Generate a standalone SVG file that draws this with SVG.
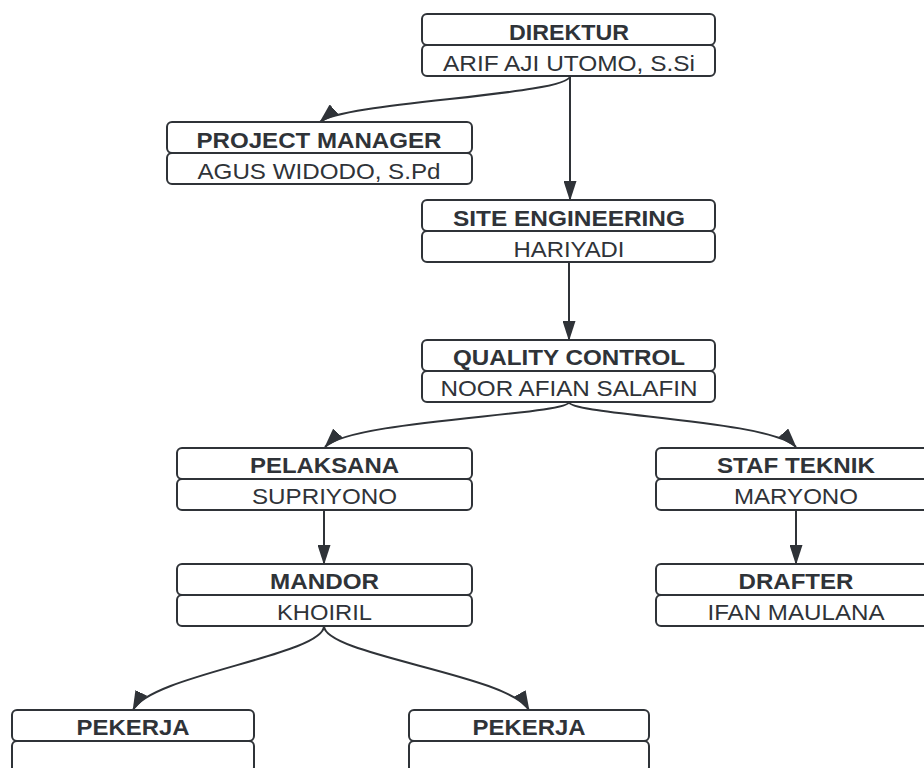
<svg xmlns="http://www.w3.org/2000/svg" width="924" height="768" viewBox="0 0 924 768">
<style>
.box{fill:#ffffff;stroke:#2f3338;stroke-width:2}
.t{font-family:"Liberation Sans",Arial,sans-serif;font-size:22.5px;font-weight:bold;fill:#2f3338;text-anchor:middle}
.n{font-family:"Liberation Sans",Arial,sans-serif;font-size:22.5px;fill:#2f3338;text-anchor:middle}
.c{fill:none;stroke:#2f3338;stroke-width:2}
</style>
<defs>
<marker id="arr" viewBox="0 0 20 13" refX="19" refY="6.5" markerWidth="20" markerHeight="13" orient="auto" markerUnits="userSpaceOnUse">
<path d="M0,0 L20,6.5 L0,13 z" fill="#2f3338"/>
</marker>
</defs>
<rect width="924" height="768" fill="#ffffff"/>
<g id="connectors">
<path class="c" d="M570,76 C570,95 342,102 320,122" marker-end="url(#arr)"/>
<path class="c" d="M570,76 L570,200" marker-end="url(#arr)"/>
<path class="c" d="M569,262 L569,340" marker-end="url(#arr)"/>
<path class="c" d="M569,402 C569,415 350,420 325,447" marker-end="url(#arr)"/>
<path class="c" d="M569,402 C569,415 772,420 796,447" marker-end="url(#arr)"/>
<path class="c" d="M324,510 L324,564" marker-end="url(#arr)"/>
<path class="c" d="M796,510 L796,564" marker-end="url(#arr)"/>
<path class="c" d="M324,626 C324,655 150,675 133,710" marker-end="url(#arr)"/>
<path class="c" d="M324,626 C324,655 510,675 529,710" marker-end="url(#arr)"/>
</g>
<g id="direktur">
<rect class="box" x="422" y="14" width="293" height="31" rx="5"/>
<rect class="box" x="422" y="45" width="293" height="31" rx="5"/>
<text class="t" x="569" y="39.5" textLength="120" lengthAdjust="spacingAndGlyphs">DIREKTUR</text>
<text class="n" x="569" y="70.5" textLength="252" lengthAdjust="spacingAndGlyphs">ARIF AJI UTOMO, S.Si</text>
</g>
<g id="project-manager">
<rect class="box" x="167" y="122" width="305" height="31" rx="5"/>
<rect class="box" x="167" y="153" width="305" height="31" rx="5"/>
<text class="t" x="319" y="147.5" textLength="245" lengthAdjust="spacingAndGlyphs">PROJECT MANAGER</text>
<text class="n" x="319" y="178.5" textLength="243" lengthAdjust="spacingAndGlyphs">AGUS WIDODO, S.Pd</text>
</g>
<g id="site-engineering">
<rect class="box" x="422" y="200" width="293" height="31" rx="5"/>
<rect class="box" x="422" y="231" width="293" height="31" rx="5"/>
<text class="t" x="569" y="225.5" textLength="232" lengthAdjust="spacingAndGlyphs">SITE ENGINEERING</text>
<text class="n" x="569" y="256.5" textLength="111" lengthAdjust="spacingAndGlyphs">HARIYADI</text>
</g>
<g id="quality-control">
<rect class="box" x="422" y="340" width="293" height="31" rx="5"/>
<rect class="box" x="422" y="371" width="293" height="31" rx="5"/>
<text class="t" x="569" y="365" textLength="232" lengthAdjust="spacingAndGlyphs">QUALITY CONTROL</text>
<text class="n" x="569" y="396" textLength="257" lengthAdjust="spacingAndGlyphs">NOOR AFIAN SALAFIN</text>
</g>
<g id="pelaksana">
<rect class="box" x="177" y="448" width="295" height="31" rx="5"/>
<rect class="box" x="177" y="479" width="295" height="31" rx="5"/>
<text class="t" x="324.5" y="473" textLength="149" lengthAdjust="spacingAndGlyphs">PELAKSANA</text>
<text class="n" x="324.5" y="504" textLength="145" lengthAdjust="spacingAndGlyphs">SUPRIYONO</text>
</g>
<g id="staf-teknik">
<rect class="box" x="656" y="448" width="280" height="31" rx="5"/>
<rect class="box" x="656" y="479" width="280" height="31" rx="5"/>
<text class="t" x="796" y="473" textLength="158" lengthAdjust="spacingAndGlyphs">STAF TEKNIK</text>
<text class="n" x="796" y="504" textLength="124" lengthAdjust="spacingAndGlyphs">MARYONO</text>
</g>
<g id="mandor">
<rect class="box" x="177" y="564" width="295" height="31" rx="5"/>
<rect class="box" x="177" y="595" width="295" height="31" rx="5"/>
<text class="t" x="324.5" y="589" textLength="109" lengthAdjust="spacingAndGlyphs">MANDOR</text>
<text class="n" x="324.5" y="620" textLength="95" lengthAdjust="spacingAndGlyphs">KHOIRIL</text>
</g>
<g id="drafter">
<rect class="box" x="656" y="564" width="280" height="31" rx="5"/>
<rect class="box" x="656" y="595" width="280" height="31" rx="5"/>
<text class="t" x="796" y="589" textLength="115" lengthAdjust="spacingAndGlyphs">DRAFTER</text>
<text class="n" x="796" y="620" textLength="177" lengthAdjust="spacingAndGlyphs">IFAN MAULANA</text>
</g>
<g id="pekerja-1">
<rect class="box" x="12" y="710" width="242" height="31" rx="5"/>
<rect class="box" x="12" y="741" width="242" height="31" rx="5"/>
<text class="t" x="133" y="735" textLength="113" lengthAdjust="spacingAndGlyphs">PEKERJA</text>
</g>
<g id="pekerja-2">
<rect class="box" x="409" y="710" width="240" height="31" rx="5"/>
<rect class="box" x="409" y="741" width="240" height="31" rx="5"/>
<text class="t" x="529" y="735" textLength="113" lengthAdjust="spacingAndGlyphs">PEKERJA</text>
</g>
</svg>
